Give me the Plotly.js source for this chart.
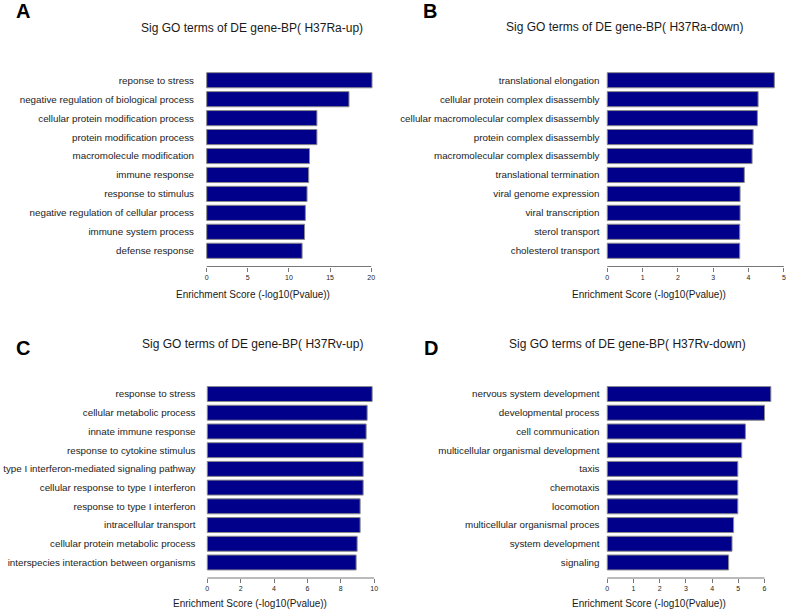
<!DOCTYPE html>
<html>
<head>
<meta charset="utf-8">
<script src="https://cdn.plot.ly/plotly-3.0.1.min.js"></script>
<style>html,body{margin:0;padding:0;background:#fff;}#chart{width:787px;height:615px;}</style>
</head>
<body>
<div id="chart"></div>
<script>
// ---- data ----
var catA = ['reponse to stress','negative regulation of biological process','cellular protein modification process','protein modification process','macromolecule modification','immune response','response to stimulus','negative regulation of cellular process','immune system process','defense response'];
var valA = [20.1, 17.3, 13.4, 13.4, 12.5, 12.4, 12.2, 12.0, 11.9, 11.6];

var catB = ['translational elongation','cellular protein complex disassembly','cellular macromolecular complex disassembly','protein complex disassembly','macromolecular complex disassembly','translational termination','viral genome expression','viral transcription','sterol transport','cholesterol transport'];
var valB = [4.73, 4.27, 4.25, 4.13, 4.10, 3.88, 3.76, 3.76, 3.75, 3.75];

var catC = ['response to stress','cellular metabolic process','innate immune response','response to cytokine stimulus','type I interferon-mediated signaling pathway','cellular response to type I interferon','response to type I interferon','intracellular transport','cellular protein metabolic process','interspecies interaction between organisms'];
var valC = [9.88, 9.58, 9.52, 9.34, 9.34, 9.34, 9.16, 9.16, 8.98, 8.92];

var catD = ['nervous system development','developmental process','cell communication','multicellular organismal development','taxis','chemotaxis','locomotion','multicellular organismal proces','system development','signaling'];
var valD = [6.24, 6.00, 5.27, 5.13, 4.98, 4.98, 4.98, 4.82, 4.76, 4.63];

var panelLetters = ['A','B','C','D'];
var panelTitles = ['Sig GO terms of DE gene-BP( H37Ra-up)','Sig GO terms of DE gene-BP( H37Ra-down)','Sig GO terms of DE gene-BP( H37Rv-up)','Sig GO terms of DE gene-BP( H37Rv-down)'];
var xLabel = 'Enrichment Score (-log10(Pvalue))';

// ---- layout geometry (pixels) ----
var W = 787, H = 615;
var panels = [
  {cats: catA, vals: valA, xr: [-0.812, 21.07], dtick: 5, px: [200, 380], py: [64.5, 266.5], standoff: 5,
   title: [252, 28], letter: [23, 11], xlab: [253, 294.5]},
  {cats: catB, vals: valB, xr: [-0.192, 5.06], dtick: 1, px: [600.5, 786], py: [64.5, 266.5], standoff: 2.5,
   title: [624, 27], letter: [430, 11], xlab: [649, 294.5]},
  {cats: catC, vals: valC, xr: [-0.407, 10.35], dtick: 2, px: [200.5, 380], py: [378.5, 578], standoff: 4,
   title: [252, 344], letter: [23, 348], xlab: [250, 603]},
  {cats: catD, vals: valD, xr: [-0.258, 6.59], dtick: 1, px: [600.5, 780], py: [378.5, 578], standoff: 3.4,
   title: [627, 344], letter: [431, 348], xlab: [649, 603]}
];

var font = 'Liberation Sans, Arial, Helvetica, sans-serif';
var data = [];
var layout = {
  width: W, height: H,
  margin: {l: 0, r: 0, t: 0, b: 0},
  paper_bgcolor: '#ffffff', plot_bgcolor: '#ffffff',
  showlegend: false,
  font: {family: font, color: '#1a1a1a'},
  annotations: [], shapes: []
};

panels.forEach(function (p, i) {
  var n = i + 1;
  var xa = 'x' + (n === 1 ? '' : n), ya = 'y' + (n === 1 ? '' : n);
  data.push({
    type: 'bar', orientation: 'h',
    x: p.vals, y: p.cats,
    xaxis: xa, yaxis: ya,
    marker: {color: '#00008B', line: {color: '#8a8a8a', width: 1}},
    hoverinfo: 'x+y'
  });
  var pad = 0.33;
  layout['xaxis' + (n === 1 ? '' : n)] = {
    domain: [p.px[0] / W, p.px[1] / W],
    anchor: ya,
    range: p.xr,
    tick0: 0, dtick: p.dtick,
    ticks: 'outside', ticklen: 4, tickwidth: 1, tickcolor: '#777',
    showline: false, zeroline: false, showgrid: false,
    tickfont: {size: 7, family: font, color: '#222'},
    ticklabelstandoff: 0
  };
  layout['yaxis' + (n === 1 ? '' : n)] = {
    domain: [1 - p.py[1] / H, 1 - p.py[0] / H],
    anchor: xa,
    type: 'category',
    range: [p.cats.length - 0.5 + pad, -0.5 - pad],
    ticks: '', showline: false, zeroline: false, showgrid: false,
    tickfont: {size: 9.8, family: font, color: '#222'},
    ticklabelstandoff: p.standoff
  };
  // axis line from 0 to last tick (R-style axis)
  var lastTick = Math.floor(p.xr[1] / p.dtick + 1e-9) * p.dtick;
  layout.shapes.push({
    type: 'line', xref: xa, yref: ya + ' domain',
    x0: 0, x1: lastTick, y0: 0, y1: 0,
    line: {color: '#777', width: 1}
  });
  layout.annotations.push({
    text: panelTitles[i], xref: 'paper', yref: 'paper',
    x: p.title[0] / W, y: 1 - p.title[1] / H, xanchor: 'center', yanchor: 'middle',
    showarrow: false, font: {size: 12, family: font, color: '#1a1a1a'}
  });
  layout.annotations.push({
    text: '<b>' + panelLetters[i] + '</b>', xref: 'paper', yref: 'paper',
    x: p.letter[0] / W, y: 1 - p.letter[1] / H, xanchor: 'center', yanchor: 'middle',
    showarrow: false, font: {size: 20, family: font, color: '#000'}
  });
  layout.annotations.push({
    text: xLabel, xref: 'paper', yref: 'paper',
    x: p.xlab[0] / W, y: 1 - p.xlab[1] / H, xanchor: 'center', yanchor: 'middle',
    showarrow: false, font: {size: 10, family: font, color: '#1a1a1a'}
  });
});

Plotly.newPlot('chart', data, layout, {displayModeBar: false, staticPlot: true});
</script>
</body>
</html>
